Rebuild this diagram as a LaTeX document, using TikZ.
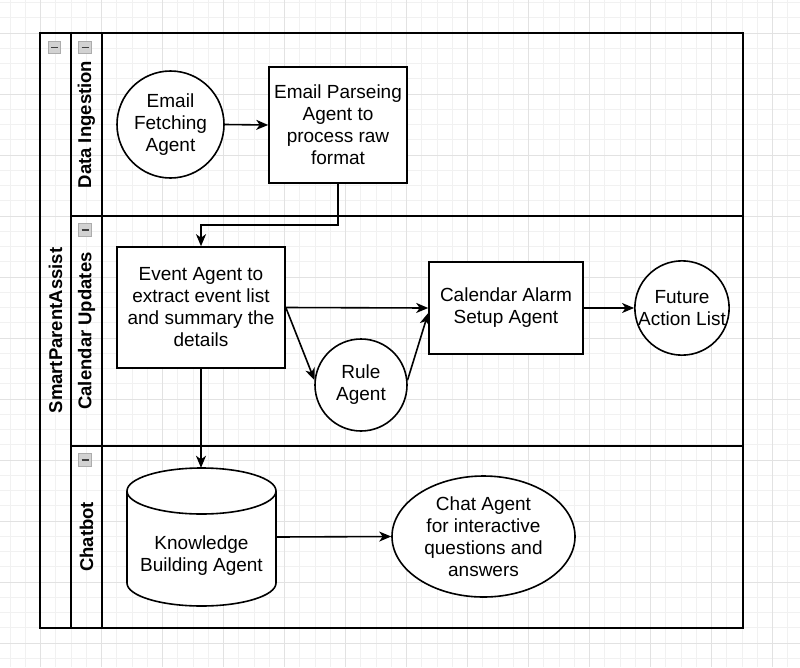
\documentclass[tikz,border=0pt]{standalone}
\usepackage{fontspec}
\setmainfont{Liberation Sans}
\usetikzlibrary{arrows.meta,calc,shapes.geometric}
\definecolor{gridminor}{HTML}{F1F1F1}
\definecolor{gridmajor}{HTML}{E2E2E2}
\begin{document}
\begin{tikzpicture}[x=1pt,y=-1pt,
  every node/.style={font=\fontsize{19}{22}\selectfont, align=center, inner sep=0pt},
  shp/.style={draw=black, line width=1.6pt, fill=white},
  agentcircle/.style={shp, circle, minimum size=#1},
  agentbox/.style={shp, rectangle},
  conn/.style={line width=1.6pt, -{Stealth[length=12pt,width=10pt,inset=3.5pt]}},
  plainline/.style={line width=1.6pt},
  lanebox/.style={draw=black, line width=1.6pt, rectangle, fill=none},
  lanetitle/.style={font=\bfseries\fontsize{18.5}{22}\selectfont, rotate=90},
  collapse/.style={rectangle, minimum size=12.5pt, fill=gray!35, draw=gray!65, line width=0.9pt,
    path picture={\draw[line width=1.4pt, black!75] ([xshift=-3.5pt]path picture bounding box.center) -- ([xshift=3.5pt]path picture bounding box.center);}}
]
\useasboundingbox (0,0) rectangle (800,667);
\fill[white] (0,0) rectangle (800,667);
% grid
\foreach \i in {0,...,52} \draw[gridminor, line width=0.8pt] ({10+15.25*\i},0) -- ({10+15.25*\i},667);
\foreach \j in {0,...,43} \draw[gridminor, line width=0.8pt] (0,{2.5+15.25*\j}) -- (800,{2.5+15.25*\j});
\foreach \k in {0,...,12} \draw[gridmajor, line width=0.9pt] ({40.5+61*\k},0) -- ({40.5+61*\k},667);
\foreach \k in {0,...,10} \draw[gridmajor, line width=0.9pt] (0,{33+61*\k}) -- (800,{33+61*\k});

% pool and lanes
\node[lanebox, minimum width=703pt, minimum height=595pt] (pool) at (391.5,330.5) {};
\node[lanebox, minimum width=672pt, minimum height=183pt] (lane1) at (407,124.5) {};
\node[lanebox, minimum width=672pt, minimum height=230pt] (lane2) at (407,331) {};
\node[lanebox, minimum width=672pt, minimum height=182pt] (lane3) at (407,537) {};
\draw[plainline] (102,33) -- (102,628);

\node[lanetitle] (pooltitle) at (55.5,330.5) {SmartParentAssist};
\node[lanetitle] (t1) at (86.5,124.5) {Data Ingestion};
\node[lanetitle] (t2) at (86.5,331) {Calendar Updates};
\node[lanetitle] (t3) at (86.5,537) {Chatbot};

\node[collapse] (ic0) at (54.5,47.5) {};
\node[collapse] (ic1) at (85,47.5) {};
\node[collapse] (ic2) at (85,230) {};
\node[collapse] (ic3) at (85,460) {};

% nodes
\node[agentcircle=107pt] (fetch) at (170.5,124.5) {Email\\Fetching\\Agent};
\node[agentbox, minimum width=138pt, minimum height=116pt] (parse) at (338,125) {Email Parseing\\Agent to\\process raw\\format};
\node[agentbox, minimum width=168pt, minimum height=121pt] (ev) at (201,307.5) {Event Agent to\\extract event list\\and summary the\\details};
\node[agentbox, minimum width=154pt, minimum height=92pt] (cal) at (506,308) {Calendar Alarm\\Setup Agent};
\node[agentcircle=92pt] (rule) at (361,385) {Rule\\Agent};
\node[agentcircle=92pt] (future) at (682,308) {Future\\Action List};
\node[shp, ellipse, minimum width=183pt, minimum height=121pt] (chat) at (483.5,536.5) {Chat Agent\\for interactive\\questions and\\answers};

% cylinder
\node[minimum width=149pt, minimum height=138pt] (kb) at (201.5,537) {};
\filldraw[shp] (127,491) -- (127,583) arc[start angle=180, end angle=360, x radius=74.5pt, y radius=23pt] -- (276,491) arc[start angle=0, end angle=180, x radius=74.5pt, y radius=23pt] -- cycle;
\draw[line width=1.6pt] (127,491) arc[start angle=180, end angle=360, x radius=74.5pt, y radius=23pt];
\node (kbtext) at (201.5,556) {Knowledge\\Building Agent};

% connectors
\draw[conn] (fetch.east) -- (parse.west);
\draw[conn] (parse.south) -- ++(0,41) -| (ev.north);
\draw[conn] (ev.east) -- (cal.west);
\draw[conn] (ev.east) -- (rule.174);
\draw[conn] (rule.6) -- ($(cal.west)+(0,5)$);
\draw[conn] (cal.east) -- (future.west);
\draw[conn] (ev.south) -- (ev.south |- kb.north);
\draw[conn] (kb.east) -- (chat.west);
\end{tikzpicture}
\end{document}
